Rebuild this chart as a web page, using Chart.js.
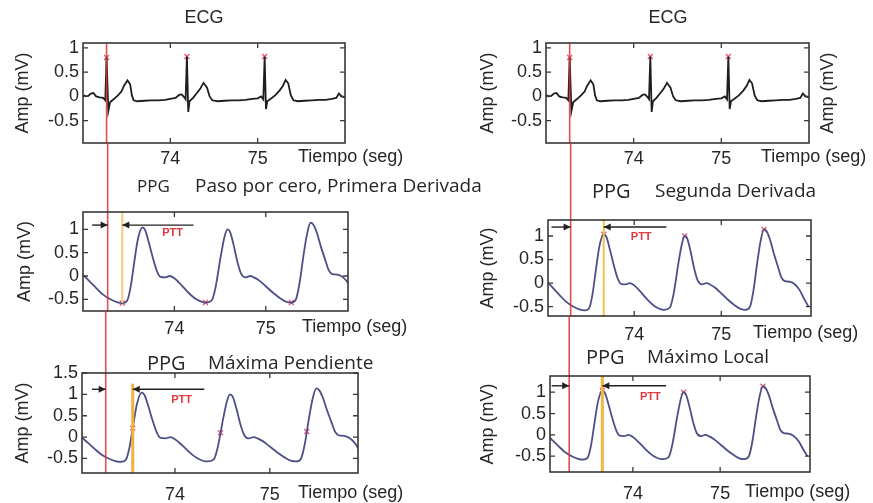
<!DOCTYPE html>
<html>
<head>
<meta charset="utf-8">
<script src="https://cdn.jsdelivr.net/npm/chart.js@4.4.0/dist/chart.umd.min.js"></script>
<style>
  body { margin: 0; background: #fff; }
  #wrap { position: relative; width: 873px; height: 503px; }
  #wrap canvas { position: absolute; left: 0; top: 0; }
</style>
</head>
<body>
<div id="wrap">
  <canvas id="ecgL" width="873" height="503"></canvas>
  <canvas id="ppgL1" width="873" height="503"></canvas>
  <canvas id="ppgL2" width="873" height="503"></canvas>
  <canvas id="ecgR" width="873" height="503"></canvas>
  <canvas id="ppgR1" width="873" height="503"></canvas>
  <canvas id="ppgR2" width="873" height="503"></canvas>
</div>
<script>
// ECG trace (seg, mV)
const ecgTime = [73.00, 73.03, 73.06, 73.09, 73.12, 73.15, 73.19, 73.23, 73.255, 73.27, 73.29, 73.31, 73.35, 73.40, 73.44, 73.47, 73.51, 73.54, 73.56, 73.58,
  73.62, 73.70, 73.78, 73.86, 73.94, 74.00, 74.06, 74.10, 74.13, 74.16, 74.175, 74.19, 74.205, 74.22, 74.26, 74.30, 74.34, 74.38, 74.42, 74.45,
  74.48, 74.54, 74.62, 74.70, 74.78, 74.86, 74.94, 75.00, 75.04, 75.065, 75.08, 75.095, 75.11, 75.15, 75.20, 75.25, 75.29, 75.32, 75.35, 75.38,
  75.41, 75.46, 75.54, 75.62, 75.70, 75.78, 75.85, 75.90, 75.93, 75.96, 76.00];
const ecgAmp = [0.03, 0.00, 0.01, 0.06, 0.07, 0.00, -0.02, -0.03, -0.08, 0.80, -0.30, -0.12, -0.06, 0.02, 0.10, 0.22, 0.33, 0.25, 0.02, -0.08,
  -0.10, -0.09, -0.08, -0.08, -0.07, -0.05, -0.03, 0.03, 0.04, -0.02, -0.06, 0.82, -0.32, -0.10, -0.03, 0.06, 0.15, 0.28, 0.18, 0.00,
  -0.08, -0.10, -0.09, -0.08, -0.08, -0.07, -0.05, -0.04, 0.00, -0.06, 0.82, -0.26, -0.10, -0.05, 0.02, 0.12, 0.22, 0.34, 0.27, 0.02,
  -0.08, -0.10, -0.09, -0.08, -0.07, -0.07, -0.05, -0.03, 0.06, 0.00, -0.02];

// PPG trace (seg, mV)
const ppgTime = [73.00, 73.04, 73.08, 73.15, 73.22, 73.30, 73.37, 73.43, 73.48, 73.52, 73.56, 73.60, 73.65, 73.68, 73.72, 73.76, 73.81, 73.85, 73.90, 73.95,
  74.00, 74.08, 74.16, 74.24, 74.34, 74.41, 74.45, 74.51, 74.55, 74.58, 74.61, 74.65, 74.69, 74.73, 74.78, 74.83, 74.87, 74.93, 75.00, 75.08,
  75.16, 75.22, 75.28, 75.33, 75.37, 75.41, 75.45, 75.49, 75.52, 75.56, 75.60, 75.65, 75.69, 75.73, 75.78, 75.84, 75.90, 75.95, 76.00];
const ppgAmp = [0.02, -0.05, -0.13, -0.27, -0.40, -0.50, -0.56, -0.58, -0.54, -0.25, 0.28, 0.78, 1.04, 0.98, 0.72, 0.42, 0.10, -0.02, -0.03, 0.00,
  -0.05, -0.20, -0.37, -0.50, -0.57, -0.52, -0.25, 0.45, 0.85, 1.00, 0.94, 0.65, 0.30, 0.05, -0.03, 0.00, -0.03, -0.10, -0.22, -0.36,
  -0.48, -0.55, -0.57, -0.50, -0.15, 0.40, 0.88, 1.14, 1.10, 0.92, 0.65, 0.35, 0.12, 0.04, 0.03, -0.02, -0.15, -0.33, -0.50];

// detected points
const rPeakTime = [73.27, 74.19, 75.08];
const rPeakAmp = [0.80, 0.82, 0.82];
const footTime = [73.43, 74.34, 75.28];
const footAmp = [-0.58, -0.57, -0.57];
const slopeTime = [73.555, 74.48, 75.39];
const slopeAmp = [0.21, 0.10, 0.13];
const peakTime = [73.65, 74.58, 75.49];
const peakAmp = [1.04, 1.00, 1.14];

const xTicks = [74, 75];
const yTicks = [-0.5, 0, 0.5, 1];
const yTicksWide = [-0.5, 0, 0.5, 1, 1.5];

const W = 873, H = 503;
const AXF = "'Liberation Sans', Arial, sans-serif";
const TTF = "'Open Sans', sans-serif";

const pts = (xs, ys) => xs.map((x, i) => ({ x: x, y: ys[i] }));

const panels = {
  ecgL: { kind: 'ecg', box: [83, 43, 345, 143], xr: [73, 76], yr: [-0.96, 1.1], yt: yTicks, tickPad: 5, xlabX: 298, ylabX: 23,
    titles: [{ t: 'ECG', x: 204, y: 18, size: 18, font: AXF, align: 'center' }] },
  ppgL1: { kind: 'ppg', box: [83, 212, 348, 311], xr: [73, 75.9], yr: [-0.75, 1.37], yt: yTicks, tickPad: 7, xlabX: 302, ylabX: 25,
    above: 'ecgL', marks: [footTime, footAmp], orange: { t: footTime[0], from: null, to: footAmp[0], color: '#f2cd78', w: 2 },
    arrow: { y: 1.09, from: 73.10, to: 74.21 }, ptt: [73.98, 0.92],
    titles: [{ t: 'PPG', x: 137, y: 187, size: 17, font: TTF }, { t: 'Paso por cero, Primera Derivada', x: 195, y: 187, size: 19, font: TTF }] },
  ppgL2: { kind: 'ppg', box: [82, 373, 358, 473], xr: [73.02, 75.93], yr: [-0.84, 1.5], yt: yTicksWide, tickPad: 11, xlabX: 298, ylabX: 23,
    above: 'ppgL1', marks: [slopeTime, slopeAmp], orange: { t: slopeTime[0], from: 1.25, to: null, color: '#f0b23c', w: 3 },
    arrow: { y: 1.12, from: 73.125, to: 74.31 }, ptt: [74.07, 0.86],
    titles: [{ t: 'PPG', x: 147, y: 364, size: 20, font: TTF }, { t: 'Máxima Pendiente', x: 208, y: 364, size: 19, font: TTF }] },
  ecgR: { kind: 'ecg', box: [546, 43, 809, 143], xr: [73, 76], yr: [-0.96, 1.1], yt: yTicks, tickPad: 5, xlabX: 761, ylabX: 488, ylabRX: 828,
    titles: [{ t: 'ECG', x: 668, y: 18, size: 18, font: AXF, align: 'center' }] },
  ppgR1: { kind: 'ppg', box: [548, 220, 811, 316], xr: [73.01, 76.03], yr: [-0.70, 1.34], yt: yTicks, tickPad: 8, xlabX: 753, ylabX: 488,
    above: 'ecgR', marks: [peakTime, peakAmp], orange: { t: peakTime[0], from: null, to: null, color: '#f2c24e', w: 2 },
    arrow: { y: 1.19, from: 73.05, to: 74.37 }, ptt: [74.08, 0.98],
    titles: [{ t: 'PPG', x: 592, y: 192, size: 20, font: TTF }, { t: 'Segunda Derivada', x: 655, y: 192, size: 19, font: TTF }] },
  ppgR2: { kind: 'ppg', box: [550, 376, 810, 472], xr: [73.05, 76.03], yr: [-0.87, 1.38], yt: yTicks, tickPad: 11, xlabX: 745, ylabX: 488,
    above: 'ppgR1', marks: [peakTime, peakAmp], orange: { t: peakTime[0], from: null, to: null, color: '#f0b840', w: 3 },
    arrow: { y: 1.15, from: 73.07, to: 74.38 }, ptt: [74.2, 0.89],
    titles: [{ t: 'PPG', x: 586, y: 358, size: 20, font: TTF }, { t: 'Máximo Local', x: 647, y: 358, size: 19, font: TTF }] }
};

function arrow(ctx, x0, x1, y) {
  ctx.beginPath(); ctx.moveTo(x0, y); ctx.lineTo(x1, y); ctx.stroke();
  const d = x1 > x0 ? -1 : 1;
  ctx.beginPath(); ctx.moveTo(x1, y); ctx.lineTo(x1 + d * 7, y - 3.5); ctx.lineTo(x1 + d * 7, y + 3.5); ctx.closePath(); ctx.fill();
}

const panelPlugin = {
  id: 'panel',
  afterDatasetsDraw(chart) {
    const p = panels[chart.canvas.id];
    const ctx = chart.ctx, a = chart.chartArea;
    const xs = chart.scales.x, ys = chart.scales.y;
    ctx.save();
    // orange marker line
    if (p.orange) {
      const o = p.orange;
      const x = xs.getPixelForValue(o.t);
      ctx.strokeStyle = o.color; ctx.lineWidth = o.w;
      ctx.beginPath();
      ctx.moveTo(x, o.from === null ? a.top : ys.getPixelForValue(o.from));
      ctx.lineTo(x, o.to === null ? a.bottom : ys.getPixelForValue(o.to));
      ctx.stroke();
    }
    // red line at the ECG R peak, continued from the panel above
    const rx = xs.getPixelForValue(rPeakTime[0]);
    const y0 = p.above ? Chart.getChart(p.above).chartArea.bottom : a.top;
    ctx.strokeStyle = 'rgba(214,50,50,0.85)'; ctx.lineWidth = 1.6;
    ctx.beginPath(); ctx.moveTo(rx, y0); ctx.lineTo(rx, a.bottom); ctx.stroke();
    // PTT arrows
    if (p.arrow) {
      const ay = ys.getPixelForValue(p.arrow.y);
      ctx.strokeStyle = '#222'; ctx.fillStyle = '#222'; ctx.lineWidth = 1.4;
      arrow(ctx, xs.getPixelForValue(p.arrow.from), rx, ay);
      arrow(ctx, xs.getPixelForValue(p.arrow.to), xs.getPixelForValue(p.orange.t), ay);
      ctx.fillStyle = '#e0383c';
      ctx.font = "bold 11px " + AXF;
      ctx.textAlign = 'center'; ctx.textBaseline = 'middle';
      ctx.fillText('PTT', xs.getPixelForValue(p.ptt[0]), ys.getPixelForValue(p.ptt[1]));
    }
    ctx.restore();
  },
  afterDraw(chart) {
    const p = panels[chart.canvas.id];
    const ctx = chart.ctx, a = chart.chartArea;
    const xs = chart.scales.x, ys = chart.scales.y;
    ctx.save();
    // box and inward ticks
    ctx.strokeStyle = '#383838'; ctx.lineWidth = 1.6;
    ctx.strokeRect(a.left, a.top, a.right - a.left, a.bottom - a.top);
    ctx.lineWidth = 1.3;
    ctx.beginPath();
    xs.ticks.forEach(t => {
      const x = xs.getPixelForValue(t.value);
      ctx.moveTo(x, a.bottom); ctx.lineTo(x, a.bottom - 5);
      ctx.moveTo(x, a.top); ctx.lineTo(x, a.top + 5);
    });
    ys.ticks.forEach(t => {
      const y = ys.getPixelForValue(t.value);
      ctx.moveTo(a.left, y); ctx.lineTo(a.left + 5, y);
      ctx.moveTo(a.right, y); ctx.lineTo(a.right - 5, y);
    });
    ctx.stroke();
    // texts
    ctx.fillStyle = '#262626';
    p.titles.forEach(t => {
      ctx.font = t.size + 'px ' + t.font;
      ctx.textAlign = t.align || 'left'; ctx.textBaseline = 'middle';
      ctx.fillText(t.t, t.x, t.y);
    });
    ctx.font = '18px ' + AXF;
    ctx.textAlign = 'left'; ctx.textBaseline = 'top';
    ctx.fillText('Tiempo (seg)', p.xlabX, a.bottom + p.tickPad);
    const yl = [p.ylabX].concat(p.ylabRX ? [p.ylabRX] : []);
    yl.forEach(x => {
      ctx.save();
      ctx.translate(x, (a.top + a.bottom) / 2);
      ctx.rotate(-Math.PI / 2);
      ctx.textAlign = 'center'; ctx.textBaseline = 'middle';
      ctx.fillText('Amp (mV)', 0, 0);
      ctx.restore();
    });
    ctx.restore();
  }
};

Chart.register(panelPlugin);

Object.keys(panels).forEach(id => {
  const p = panels[id];
  const datasets = [];
  if (p.kind === 'ecg') {
    datasets.push({ data: pts(ecgTime, ecgAmp), borderColor: '#1e1e1e', borderWidth: 1.8, pointRadius: 0, tension: 0 });
    datasets.push({ data: pts(rPeakTime, rPeakAmp), showLine: false, pointStyle: 'crossRot', pointRadius: 3.5,
      borderColor: '#e06070', pointBorderWidth: 1.4 });
  } else {
    datasets.push({ data: pts(ppgTime, ppgAmp), borderColor: '#4d4f86', borderWidth: 1.8, pointRadius: 0,
      cubicInterpolationMode: 'monotone' });
    datasets.push({ data: pts(p.marks[0], p.marks[1]), showLine: false, pointStyle: 'crossRot', pointRadius: 3.5,
      borderColor: '#e0607a', pointBorderWidth: 1.4 });
  }
  new Chart(document.getElementById(id), {
    type: 'line',
    data: { datasets: datasets },
    options: {
      responsive: false,
      animation: false,
      devicePixelRatio: 1,
      layout: { padding: { left: 0, top: p.box[1], right: W - p.box[2], bottom: 0 } },
      plugins: { legend: { display: false }, tooltip: { enabled: false } },
      events: [],
      scales: {
        x: {
          type: 'linear', min: p.xr[0], max: p.xr[1],
          afterBuildTicks: s => { s.ticks = xTicks.map(v => ({ value: v })); },
          afterFit: s => { s.height = H - p.box[3]; },
          grid: { display: false, drawTicks: false }, border: { display: false },
          ticks: { font: { family: AXF, size: 18 }, color: '#262626', padding: p.tickPad, maxRotation: 0, callback: v => String(v) }
        },
        y: {
          type: 'linear', min: p.yr[0], max: p.yr[1],
          afterBuildTicks: s => { s.ticks = p.yt.map(v => ({ value: v })); },
          afterFit: s => { s.width = p.box[0]; },
          grid: { display: false, drawTicks: false }, border: { display: false },
          ticks: { font: { family: AXF, size: 18 }, color: '#262626', padding: 4, callback: v => String(v) }
        }
      }
    }
  });
});
</script>
</body>
</html>
